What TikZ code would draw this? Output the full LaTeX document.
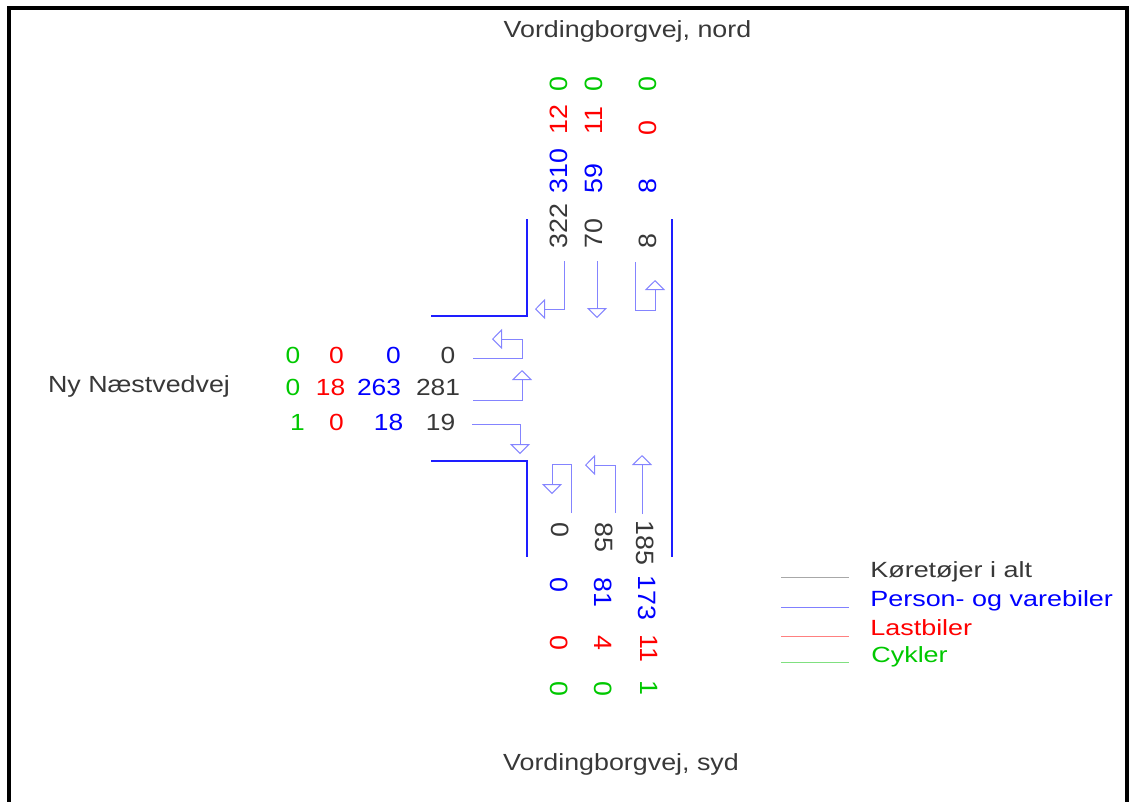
\documentclass[tikz,border=0pt]{standalone}
\usepackage{fontspec}
\setmainfont{Liberation Sans}
\usetikzlibrary{arrows.meta}
\definecolor{txtgray}{HTML}{383838}
\definecolor{txtblue}{HTML}{0000FF}
\definecolor{txtred}{HTML}{FF0000}
\definecolor{txtgreen}{HTML}{00C800}
\definecolor{curb}{HTML}{1E1EFF}
\definecolor{flow}{HTML}{8484FF}
\definecolor{keygray}{HTML}{A8A8A8}
\definecolor{keyblue}{HTML}{8080FF}
\definecolor{keyred}{HTML}{FF8080}
\definecolor{keygreen}{HTML}{80E080}
\begin{document}
\begin{tikzpicture}[x=0.75pt,y=-0.75pt,
  num/.style={inner sep=0pt, font=\fontsize{17.5}{21}\selectfont, anchor=base, xscale=1.13},
  upnum/.style={inner sep=0pt, font=\fontsize{18.8}{22}\selectfont, rotate=90, anchor=west, xscale=1.07},
  downnum/.style={inner sep=0pt, font=\fontsize{18.8}{22}\selectfont, rotate=-90, anchor=west, xscale=1.07},
  roadname/.style={inner sep=0pt, font=\fontsize{17.5}{21}\selectfont, anchor=base, text=txtgray, xscale=1.15},
  keytext/.style={inner sep=0pt, font=\fontsize{16.5}{20}\selectfont, anchor=base west, xscale=1.225},
  curbline/.style={draw=curb, line width=1.5pt},
  move/.style={draw=flow, line width=0.75pt, -{Triangle[open, length=7.5pt, width=15pt]}},
  keyline/.style={line width=0.75pt},
]
\useasboundingbox (0,0) rectangle (1130,801);
\clip (0,0) rectangle (1130,801);

% outer frame (its bottom edge lies below the page)
\draw[line width=2.6pt, black] (9,8) rectangle (1127,815);

% road names
\node[roadname] (north) at (627.5,37) {Vordingborgvej, nord};
\node[roadname] (south) at (621,770) {Vordingborgvej, syd};
\node[roadname] (west)  at (139,392) {Ny Næstvedvej};

% kerb lines of the junction
\draw[curbline] (527,219) -- (527,316) -- (431,316);
\draw[curbline] (672,219) -- (672,557);
\draw[curbline] (431,461) -- (527,461) -- (527,557);

% turning movements, north arm
\draw[move] (564,261) -- (564,309) -- (535,309);
\draw[move] (597,261) -- (597,318);
\draw[move] (635,262) -- (635,310) -- (655,310) -- (655,280);

% turning movements, west arm
\draw[move] (473,358) -- (522,358) -- (522,339) -- (492,339);
\draw[move] (473,400) -- (522,400) -- (522,370);
\draw[move] (472,424) -- (520,424) -- (520,454);

% turning movements, south arm
\draw[move] (571,513) -- (571,464) -- (552,464) -- (552,494);
\draw[move] (615,513) -- (615,465) -- (585,465);
\draw[move] (642,514) -- (642,455);

% counts, north arm (read upwards)
\node[upnum, text=txtgray]  (n11) at (559,249) {322};
\node[upnum, text=txtgray]  (n12) at (594,249) {70};
\node[upnum, text=txtgray]  (n13) at (647.5,249) {8};
\node[upnum, text=txtblue]  (n21) at (558.5,194) {310};
\node[upnum, text=txtblue]  (n22) at (594,194) {59};
\node[upnum, text=txtblue]  (n23) at (647.5,194) {8};
\node[upnum, text=txtred]   (n31) at (558.5,135) {12};
\node[upnum, text=txtred]   (n32) at (594,135) {11};
\node[upnum, text=txtred]   (n33) at (647.5,136) {0};
\node[upnum, text=txtgreen] (n41) at (558.5,92) {0};
\node[upnum, text=txtgreen] (n42) at (594,92) {0};
\node[upnum, text=txtgreen] (n43) at (647.5,92) {0};

% counts, west arm
\node[num, text=txtgreen] (w11) at (293,363) {0};
\node[num, text=txtred]   (w12) at (336.5,363) {0};
\node[num, text=txtblue]  (w13) at (393.5,363) {0};
\node[num, text=txtgray]  (w14) at (448,363) {0};
\node[num, text=txtgreen] (w21) at (293,395) {0};
\node[num, text=txtred]   (w22) at (330.5,395) {18};
\node[num, text=txtblue]  (w23) at (379,395) {263};
\node[num, text=txtgray]  (w24) at (438,395) {281};
\node[num, text=txtgreen] (w31) at (297.5,430) {1};
\node[num, text=txtred]   (w32) at (336.5,430) {0};
\node[num, text=txtblue]  (w33) at (388.5,430) {18};
\node[num, text=txtgray]  (w34) at (440.5,430) {19};

% counts, south arm (read downwards)
\node[downnum, text=txtgray]  (s11) at (560,522) {0};
\node[downnum, text=txtgray]  (s12) at (604,522) {85};
\node[downnum, text=txtgray]  (s13) at (645,520) {185};
\node[downnum, text=txtblue]  (s21) at (559.5,577) {0};
\node[downnum, text=txtblue]  (s22) at (603.5,577) {81};
\node[downnum, text=txtblue]  (s23) at (647.5,575) {173};
\node[downnum, text=txtred]   (s31) at (559.5,635) {0};
\node[downnum, text=txtred]   (s32) at (603.5,635) {4};
\node[downnum, text=txtred]   (s33) at (649,634) {11};
\node[downnum, text=txtgreen] (s41) at (559.5,681) {0};
\node[downnum, text=txtgreen] (s42) at (603.5,681) {0};
\node[downnum, text=txtgreen] (s43) at (649,680) {1};

% legend
\draw[keyline, draw=keygray]  (781,577) -- (849,577);
\draw[keyline, draw=keyblue]  (781,607) -- (849,607);
\draw[keyline, draw=keyred]   (781,636) -- (849,636);
\draw[keyline, draw=keygreen] (781,662) -- (849,662);
\node[keytext, text=txtgray]  (k1) at (870,577) {Køretøjer i alt};
\node[keytext, text=txtblue]  (k2) at (870,606) {Person- og varebiler};
\node[keytext, text=txtred]   (k3) at (870,635) {Lastbiler};
\node[keytext, text=txtgreen] (k4) at (871,662) {Cykler};
\end{tikzpicture}
\end{document}
